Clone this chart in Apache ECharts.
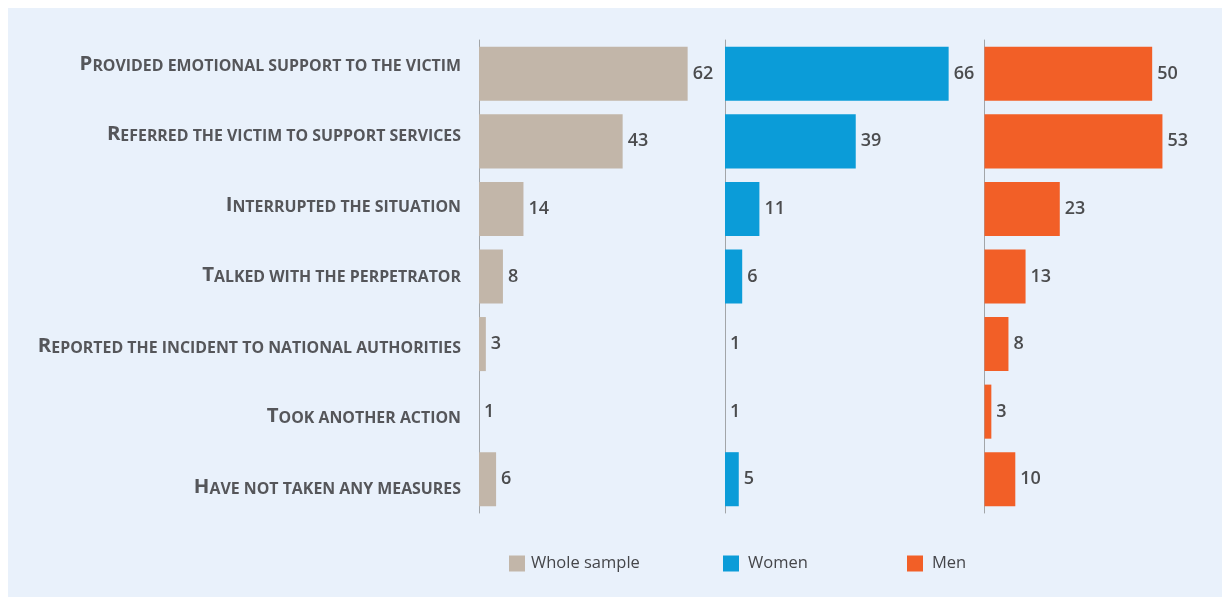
<!DOCTYPE html>
<html><head><meta charset="utf-8">
<script src="https://cdn.jsdelivr.net/npm/echarts@6/dist/echarts.min.js"></script>
<style>html,body{margin:0;padding:0;background:#fff;}#c{width:1222px;height:597px;}</style>
</head><body><div id="c"></div>
<script>
const categories = [
  'Provided emotional support to the victim',
  'Referred the victim to support services',
  'Interrupted the situation',
  'Talked with the perpetrator',
  'Reported the incident to national authorities',
  'Took another action',
  'Have not taken any measures'
];
const wholeSample = [62, 43, 14, 8, 3, 1, 6];
const women = [66, 39, 11, 6, 1, 1, 5];
const men = [50, 53, 23, 13, 8, 3, 10];
const seriesNames = ['Whole sample', 'Women', 'Men'];

const colors = ['#c2b6a9', '#0b9cd8', '#f25f27'];
const FONT = 'Open Sans';
const textColor = '#4b4c4e';

const chart = echarts.init(document.getElementById('c'), null, {renderer: 'canvas'});

const panelGrids = [
  {left: 479, top: 40, width: 236, height: 473},
  {left: 725, top: 40, width: 237.4, height: 473},
  {left: 984.5, top: 40, width: 219, height: 473}
];
const panelMax = [70, 70, 65];
const panelData = [wholeSample, women, men];

const grids = panelGrids.concat([{left: 479, top: 28.75, width: 100, height: 493.5}]);

const xAxes = panelMax.map((m, i) => ({
  type: 'value', gridIndex: i, min: 1, max: m, startValue: 1, show: false
}));
xAxes.push({type: 'value', gridIndex: 3, min: 0, max: 1, show: false});

const yAxes = panelMax.map((m, i) => ({
  type: 'category', gridIndex: i, data: categories, inverse: true,
  axisLine: {show: true, onZero: false, lineStyle: {color: '#a2a5a8', width: 1}},
  axisTick: {show: false}, axisLabel: {show: false}, splitLine: {show: false}
}));
yAxes.push({
  type: 'category', gridIndex: 3, data: categories, inverse: true,
  axisLine: {show: false}, axisTick: {show: false}, splitLine: {show: false},
  axisLabel: {
    margin: 18,
    formatter: v => '{b|' + v.charAt(0) + '}{s|' + v.slice(1).toUpperCase() + '}',
    rich: {
      b: {fontSize: 20.4, fontWeight: 700, color: '#55565a', fontFamily: FONT, verticalAlign: 'bottom'},
      s: {fontSize: 15.9, fontWeight: 700, color: '#55565a', fontFamily: FONT, verticalAlign: 'bottom'}
    }
  }
});

const series = panelData.map((d, i) => ({
  type: 'bar', name: seriesNames[i], xAxisIndex: i, yAxisIndex: i, data: d,
  barCategoryGap: '20%',
  itemStyle: {color: colors[i]},
  label: {show: true, position: 'right', distance: 5, fontSize: 18, fontWeight: 600,
          color: textColor, fontFamily: FONT, padding: [0, 0, 4, 0]},
  emphasis: {disabled: true}
}));

const legendLefts = [509, 723, 907];
const legends = seriesNames.map((n, i) => ({
  data: [n], left: legendLefts[i], top: 555, padding: 0, icon: 'rect',
  itemWidth: 16, itemHeight: 16, selectedMode: false,
  textStyle: {fontSize: 16.5, color: '#45464a', fontFamily: FONT, padding: [2, 0, 0, i === 0 ? 1 : 4]}
}));

chart.setOption({
  animation: false,
  color: colors,
  graphic: [{type: 'rect', left: 8, top: 8, shape: {width: 1214, height: 589},
             style: {fill: '#e9f1fb'}, z: -10, silent: true}],
  grid: grids,
  xAxis: xAxes,
  yAxis: yAxes,
  legend: legends,
  series: series
});
</script></body></html>
